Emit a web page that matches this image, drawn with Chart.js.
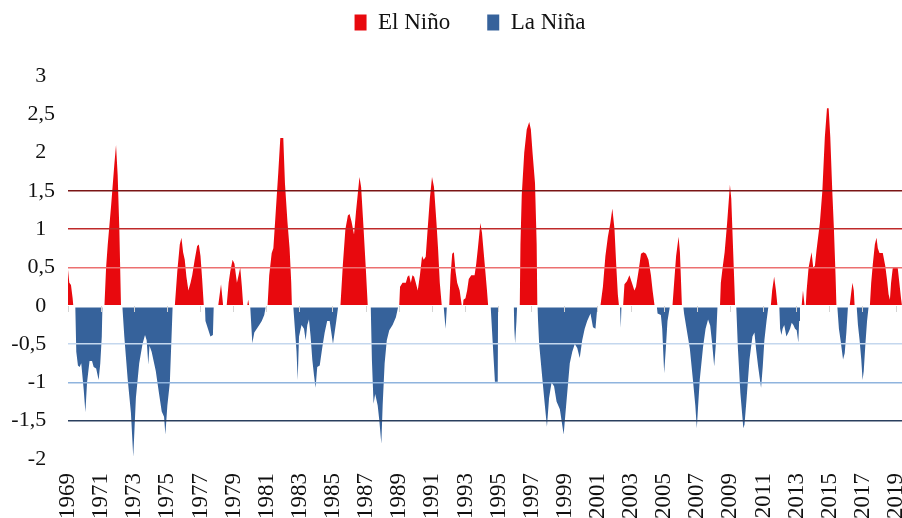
<!DOCTYPE html>
<html>
<head>
<meta charset="utf-8">
<title>El Niño / La Niña</title>
<script src="https://cdn.jsdelivr.net/npm/chart.js@4.4.1/dist/chart.umd.min.js"></script>
<style>
    html, body { margin: 0; padding: 0; background: #fff; }
    #wrap { width: 902px; height: 518px; }
</style>
</head>
<body>
<div id="wrap"><canvas id="oniChart"></canvas></div>
<script>
Chart.defaults.font.family = '"Liberation Serif", "Times New Roman", serif'
Chart.defaults.color = '#1a1a1a'


// [year, index] pairs, one list per decade
const oni1970s = [
    [1969.00, 0.47], [1969.08, 0.30], [1969.18, 0.27], [1969.28, 0.10], [1969.32, 0],
    [1969.44, 0], [1969.50, -0.6], [1969.60, -0.78], [1969.70, -0.8], [1969.80, -0.75], [1969.95, -1.1], [1970.05, -1.39],
    [1970.15, -1.0], [1970.30, -0.72], [1970.45, -0.72], [1970.55, -0.8], [1970.70, -0.82], [1970.85, -0.97], [1970.95, -0.75],
    [1971.04, -0.4], [1971.08, 0],
    [1971.20, 0], [1971.30, 0.5], [1971.40, 0.8], [1971.60, 1.3], [1971.80, 1.85], [1971.90, 2.1], [1972.00, 1.7], [1972.10, 1.0], [1972.20, 0],
    [1972.28, 0], [1972.40, -0.4], [1972.60, -0.95], [1972.80, -1.4], [1972.94, -1.97], [1973.10, -1.2], [1973.30, -0.75],
    [1973.50, -0.5], [1973.65, -0.38], [1973.75, -0.45], [1973.85, -0.77], [1973.92, -0.52], [1974.05, -0.6], [1974.30, -0.85],
    [1974.50, -1.15], [1974.66, -1.38], [1974.80, -1.45], [1974.88, -1.68], [1975.00, -1.3], [1975.15, -1.0], [1975.27, -0.3], [1975.32, 0],
    [1975.45, 0], [1975.60, 0.45], [1975.75, 0.8], [1975.85, 0.89], [1975.95, 0.7], [1976.05, 0.6], [1976.15, 0.38], [1976.27, 0.2],
    [1976.40, 0.3], [1976.50, 0.4], [1976.65, 0.6], [1976.80, 0.78], [1976.90, 0.8], [1977.00, 0.65], [1977.10, 0.35], [1977.20, 0],
    [1977.27, 0], [1977.30, -0.2], [1977.45, -0.3], [1977.60, -0.4], [1977.75, -0.38], [1977.80, 0],
    [1978.07, 0], [1978.24, 0.28], [1978.37, 0],
    [1978.58, 0], [1978.70, 0.3], [1978.80, 0.45], [1978.94, 0.6], [1979.05, 0.55], [1979.20, 0.3], [1979.30, 0.4], [1979.40, 0.5],
    [1979.50, 0.25], [1979.58, 0],
    [1979.82, 0], [1979.88, 0.08], [1979.94, 0]
]

const oni1980s = [
    [1980.00, 0], [1980.13, -0.49], [1980.25, -0.35], [1980.40, -0.3], [1980.55, -0.25], [1980.70, -0.2], [1980.85, -0.12], [1980.95, 0],
    [1981.05, 0], [1981.15, 0.4], [1981.30, 0.69], [1981.40, 0.75], [1981.50, 1.08], [1981.70, 1.75], [1981.82, 2.19], [1982.00, 2.19],
    [1982.10, 1.6], [1982.25, 1.1], [1982.38, 0.75], [1982.48, 0.3], [1982.52, 0],
    [1982.60, 0], [1982.70, -0.3], [1982.80, -0.6], [1982.87, -0.97], [1982.95, -0.4], [1983.10, -0.25], [1983.25, -0.3], [1983.35, -0.45],
    [1983.45, -0.25], [1983.55, -0.18], [1983.65, -0.4], [1983.75, -0.7], [1983.85, -0.9], [1983.95, -1.07], [1984.05, -0.8],
    [1984.20, -0.78], [1984.35, -0.55], [1984.50, -0.35], [1984.65, -0.2], [1984.80, -0.2], [1984.90, -0.35], [1985.00, -0.5],
    [1985.10, -0.35], [1985.20, -0.2], [1985.32, 0],
    [1985.45, 0], [1985.60, 0.55], [1985.75, 1.0], [1985.90, 1.18], [1986.00, 1.2], [1986.12, 1.1], [1986.27, 0.93], [1986.40, 1.25],
    [1986.60, 1.68], [1986.70, 1.55], [1986.85, 1.0], [1986.98, 0.5], [1987.10, 0],
    [1987.28, 0], [1987.35, -0.7], [1987.45, -1.28], [1987.55, -1.15], [1987.70, -1.3], [1987.80, -1.5], [1987.92, -1.8], [1988.00, -1.3],
    [1988.12, -0.75], [1988.25, -0.45], [1988.40, -0.32], [1988.60, -0.25], [1988.80, -0.15], [1988.95, 0]
]

const oni1990s = [
    [1989.00, 0], [1989.05, 0.25], [1989.20, 0.3], [1989.40, 0.3], [1989.50, 0.38], [1989.60, 0.4], [1989.70, 0.3], [1989.80, 0.4],
    [1989.90, 0.38], [1990.00, 0.3], [1990.12, 0.2], [1990.25, 0.4], [1990.38, 0.65], [1990.48, 0.6], [1990.60, 0.64], [1990.70, 0.95],
    [1990.85, 1.4], [1990.98, 1.68], [1991.10, 1.55], [1991.25, 1.08], [1991.35, 0.73], [1991.45, 0.3], [1991.57, 0],
    [1991.68, 0], [1991.72, -0.1], [1991.80, -0.3], [1991.88, 0],
    [1992.02, 0], [1992.10, 0.4], [1992.20, 0.68], [1992.30, 0.7], [1992.40, 0.45], [1992.50, 0.3], [1992.65, 0.2], [1992.78, 0],
    [1992.85, 0], [1992.88, 0.08], [1993.00, 0.1], [1993.10, 0.2], [1993.20, 0.35], [1993.35, 0.4], [1993.55, 0.4], [1993.65, 0.55],
    [1993.75, 0.75], [1993.90, 1.08], [1994.00, 0.95], [1994.10, 0.7], [1994.20, 0.45], [1994.30, 0.2], [1994.37, 0],
    [1994.52, 0], [1994.65, -0.5], [1994.78, -0.99], [1994.95, -0.99], [1994.97, 0],
    [1995.92, 0], [1995.95, -0.3], [1996.00, -0.49], [1996.08, -0.2], [1996.12, 0],
    [1996.28, 0], [1996.32, 0.8], [1996.40, 1.45], [1996.55, 2.0], [1996.70, 2.3], [1996.85, 2.4], [1996.95, 2.3], [1997.05, 2.0],
    [1997.20, 1.6], [1997.30, 0.8], [1997.34, 0],
    [1997.38, 0], [1997.45, -0.5], [1997.60, -0.85], [1997.75, -1.2], [1997.92, -1.58], [1998.05, -1.2], [1998.20, -1.0],
    [1998.35, -1.05], [1998.50, -1.25], [1998.70, -1.35], [1998.93, -1.68], [1999.10, -1.25], [1999.30, -0.75], [1999.45, -0.6],
    [1999.60, -0.5], [1999.75, -0.55], [1999.90, -0.68], [2000.05, -0.45], [2000.20, -0.3], [2000.35, -0.2], [2000.55, -0.1],
    [2000.70, -0.28], [2000.85, -0.3], [2000.97, 0]
]

const oni2000s = [
    [2001.15, 0], [2001.30, 0.25], [2001.45, 0.65], [2001.60, 0.9], [2001.75, 1.08], [2001.87, 1.27], [2002.00, 1.0], [2002.10, 0.55],
    [2002.20, 0.15], [2002.27, 0],
    [2002.33, 0], [2002.38, -0.29], [2002.42, 0],
    [2002.52, 0], [2002.60, 0.28], [2002.75, 0.32], [2002.90, 0.4], [2003.05, 0.3], [2003.20, 0.2], [2003.30, 0.25], [2003.45, 0.45],
    [2003.60, 0.68], [2003.75, 0.7], [2003.90, 0.68], [2004.05, 0.6], [2004.20, 0.4], [2004.30, 0.2], [2004.42, 0],
    [2004.55, 0], [2004.60, -0.1], [2004.80, -0.12], [2004.88, -0.3], [2005.00, -0.88], [2005.10, -0.55], [2005.20, -0.2], [2005.35, 0],
    [2005.50, 0], [2005.60, 0.3], [2005.72, 0.65], [2005.87, 0.9], [2005.95, 0.7], [2006.02, 0.3], [2006.07, 0],
    [2006.15, 0], [2006.20, -0.1], [2006.35, -0.3], [2006.55, -0.56], [2006.75, -1.0], [2006.88, -1.3], [2006.97, -1.6], [2007.05, -1.3],
    [2007.15, -0.96], [2007.35, -0.53], [2007.50, -0.3], [2007.65, -0.18], [2007.78, -0.26], [2007.90, -0.5], [2008.02, -0.79],
    [2008.12, -0.5], [2008.22, 0],
    [2008.37, 0], [2008.42, 0.3], [2008.53, 0.5], [2008.65, 0.7], [2008.80, 1.08], [2008.97, 1.58], [2009.05, 1.4], [2009.15, 0.8],
    [2009.25, 0.2], [2009.28, 0],
    [2009.35, 0], [2009.45, -0.55], [2009.60, -1.14], [2009.78, -1.6], [2009.85, -1.55], [2009.97, -1.23], [2010.15, -0.7],
    [2010.33, -0.4], [2010.45, -0.35], [2010.55, -0.57], [2010.67, -0.79], [2010.85, -1.07], [2010.95, -0.8], [2011.05, -0.45],
    [2011.18, -0.2], [2011.30, 0]
]

const oni2010s = [
    [2011.44, 0], [2011.52, 0.2], [2011.64, 0.38], [2011.75, 0.2], [2011.84, 0],
    [2011.95, 0], [2012.00, -0.3], [2012.08, -0.38], [2012.15, -0.3], [2012.25, -0.25], [2012.38, -0.4], [2012.50, -0.35],
    [2012.60, -0.3], [2012.70, -0.22], [2012.80, -0.25], [2012.90, -0.3], [2013.00, -0.32], [2013.10, -0.48], [2013.15, -0.2], [2013.20, 0],
    [2013.30, 0], [2013.38, 0.2], [2013.48, 0],
    [2013.55, 0], [2013.60, 0.2], [2013.72, 0.5], [2013.90, 0.7], [2014.00, 0.5], [2014.10, 0.52], [2014.20, 0.73], [2014.40, 1.08],
    [2014.55, 1.5], [2014.70, 2.2], [2014.83, 2.58], [2014.93, 2.58], [2015.03, 2.2], [2015.15, 1.5], [2015.25, 1.0], [2015.35, 0.38], [2015.40, 0],
    [2015.45, 0], [2015.55, -0.3], [2015.65, -0.45], [2015.80, -0.7], [2015.90, -0.62], [2016.00, -0.35], [2016.10, 0],
    [2016.20, 0], [2016.28, 0.15], [2016.37, 0.3], [2016.45, 0.2], [2016.50, 0],
    [2016.62, 0], [2016.70, -0.25], [2016.80, -0.45], [2016.90, -0.7], [2016.98, -0.97], [2017.05, -0.85], [2017.15, -0.5],
    [2017.25, -0.2], [2017.35, 0],
    [2017.42, 0], [2017.50, 0.3], [2017.60, 0.55], [2017.72, 0.8], [2017.82, 0.89], [2017.90, 0.75], [2018.00, 0.69], [2018.20, 0.69],
    [2018.35, 0.52], [2018.45, 0.35], [2018.55, 0.15], [2018.63, 0.08], [2018.70, 0.3], [2018.80, 0.49], [2018.95, 0.5], [2019.10, 0.5],
    [2019.20, 0.3], [2019.30, 0.1], [2019.36, 0]
]

const tickYears = [1969, 1971, 1973, 1975, 1977, 1979, 1981, 1983, 1985, 1987, 1989, 1991, 1993,
    1995, 1997, 1999, 2001, 2003, 2005, 2007, 2009, 2011, 2013, 2015, 2017, 2019]

const seriesNames = ['El Niño', 'La Niña']

const gridColors = {
    '1.5': '#7a1515', '1': '#bf2a2a', '0.5': '#ec7070', '0': '#ffffff',
    '-0.5': '#c4d7ee', '-1': '#8fb4de', '-1.5': '#2a3f5e'
}



// the legend sits high above the plot, with a wide gap over the chart area
const legendPlacement = {
    id: 'legendPlacement',
    afterLayout: chart => {
        const legend = chart.legend
        const top = 11 - legend.options.labels.padding
        legend.bottom = top + legend.height
        legend.top = top
        legend.left -= 15
        legend.right -= 15
    }
}



const renderOniChart = () => {

    const oni = [...oni1970s, ...oni1980s, ...oni1990s, ...oni2000s, ...oni2010s]

    const data = {
        datasets: [{
            label: seriesNames[0],
            data: oni.map(([x, y]) => ({ x, y: y >= 0 ? y : null })),
            backgroundColor: '#e8090e',
            borderColor: 'transparent',
            borderWidth: 0,
            fill: 'origin'
        }, {
            label: seriesNames[1],
            data: oni.map(([x, y]) => ({ x, y: y <= 0 ? y : null })),
            backgroundColor: '#36629b',
            borderColor: 'transparent',
            borderWidth: 0,
            fill: 'origin'
        }]
    }

    const useTickYears = scale => { scale.ticks = tickYears.map(value => ({ value })) }

    const options = {
        responsive: true,
        maintainAspectRatio: false,
        animation: false,
        events: [],
        elements: {
            point: { radius: 0 },
            line: { tension: 0 }
        },
        plugins: {
            tooltip: { enabled: false },
            legend: {
                position: 'top',
                fullSize: false,
                labels: { boxWidth: 12, boxHeight: 16, padding: 37, color: '#111', font: { size: 23 } }
            }
        },
        scales: {
            x: {
                type: 'linear',
                min: 1969,
                max: 2019.36,
                grid: { display: false, drawTicks: false },
                border: { display: false },
                afterBuildTicks: useTickYears,
                afterFit: scale => {
                    scale.height = 59
                    scale.paddingLeft = 0
                    scale.paddingRight = 0
                },
                ticks: {
                    autoSkip: false,
                    minRotation: 90,
                    maxRotation: 90,
                    padding: 14,
                    color: '#111',
                    font: { size: 23 },
                    callback: value => String(value)
                }
            },
            x2: {
                type: 'linear',
                position: { y: 0 },
                min: 1969,
                max: 2019.36,
                afterBuildTicks: useTickYears,
                afterFit: scale => {
                    scale.paddingLeft = 0
                    scale.paddingRight = 0
                },
                border: { display: false },
                grid: { z: 2, drawOnChartArea: false, tickLength: 6, tickWidth: 1, tickColor: '#d4d4d4' },
                ticks: { display: false }
            },
            y: {
                min: -2,
                max: 3,
                border: { display: false },
                afterFit: scale => {
                    scale.width = 68
                    scale.paddingTop = 76
                },
                grid: {
                    z: 1,
                    drawTicks: false,
                    color: ctx => (ctx.tick && gridColors[ctx.tick.value]) || 'transparent',
                    lineWidth: ctx => (ctx.tick && ctx.tick.value === 0) ? 2.5 : 1.5
                },
                ticks: {
                    stepSize: 0.5,
                    padding: 13,
                    color: '#111',
                    font: { size: 22 },
                    callback: value => {
                        const label = String(value).replace('.', ',')
                        return value > 0 && value % 1 ? label : label + '\u2009\u2009'
                    }
                }
            }
        }
    }

    new Chart('oniChart', { type: 'line', data, options, plugins: [legendPlacement] })
}



renderOniChart()
</script>
</body>
</html>
